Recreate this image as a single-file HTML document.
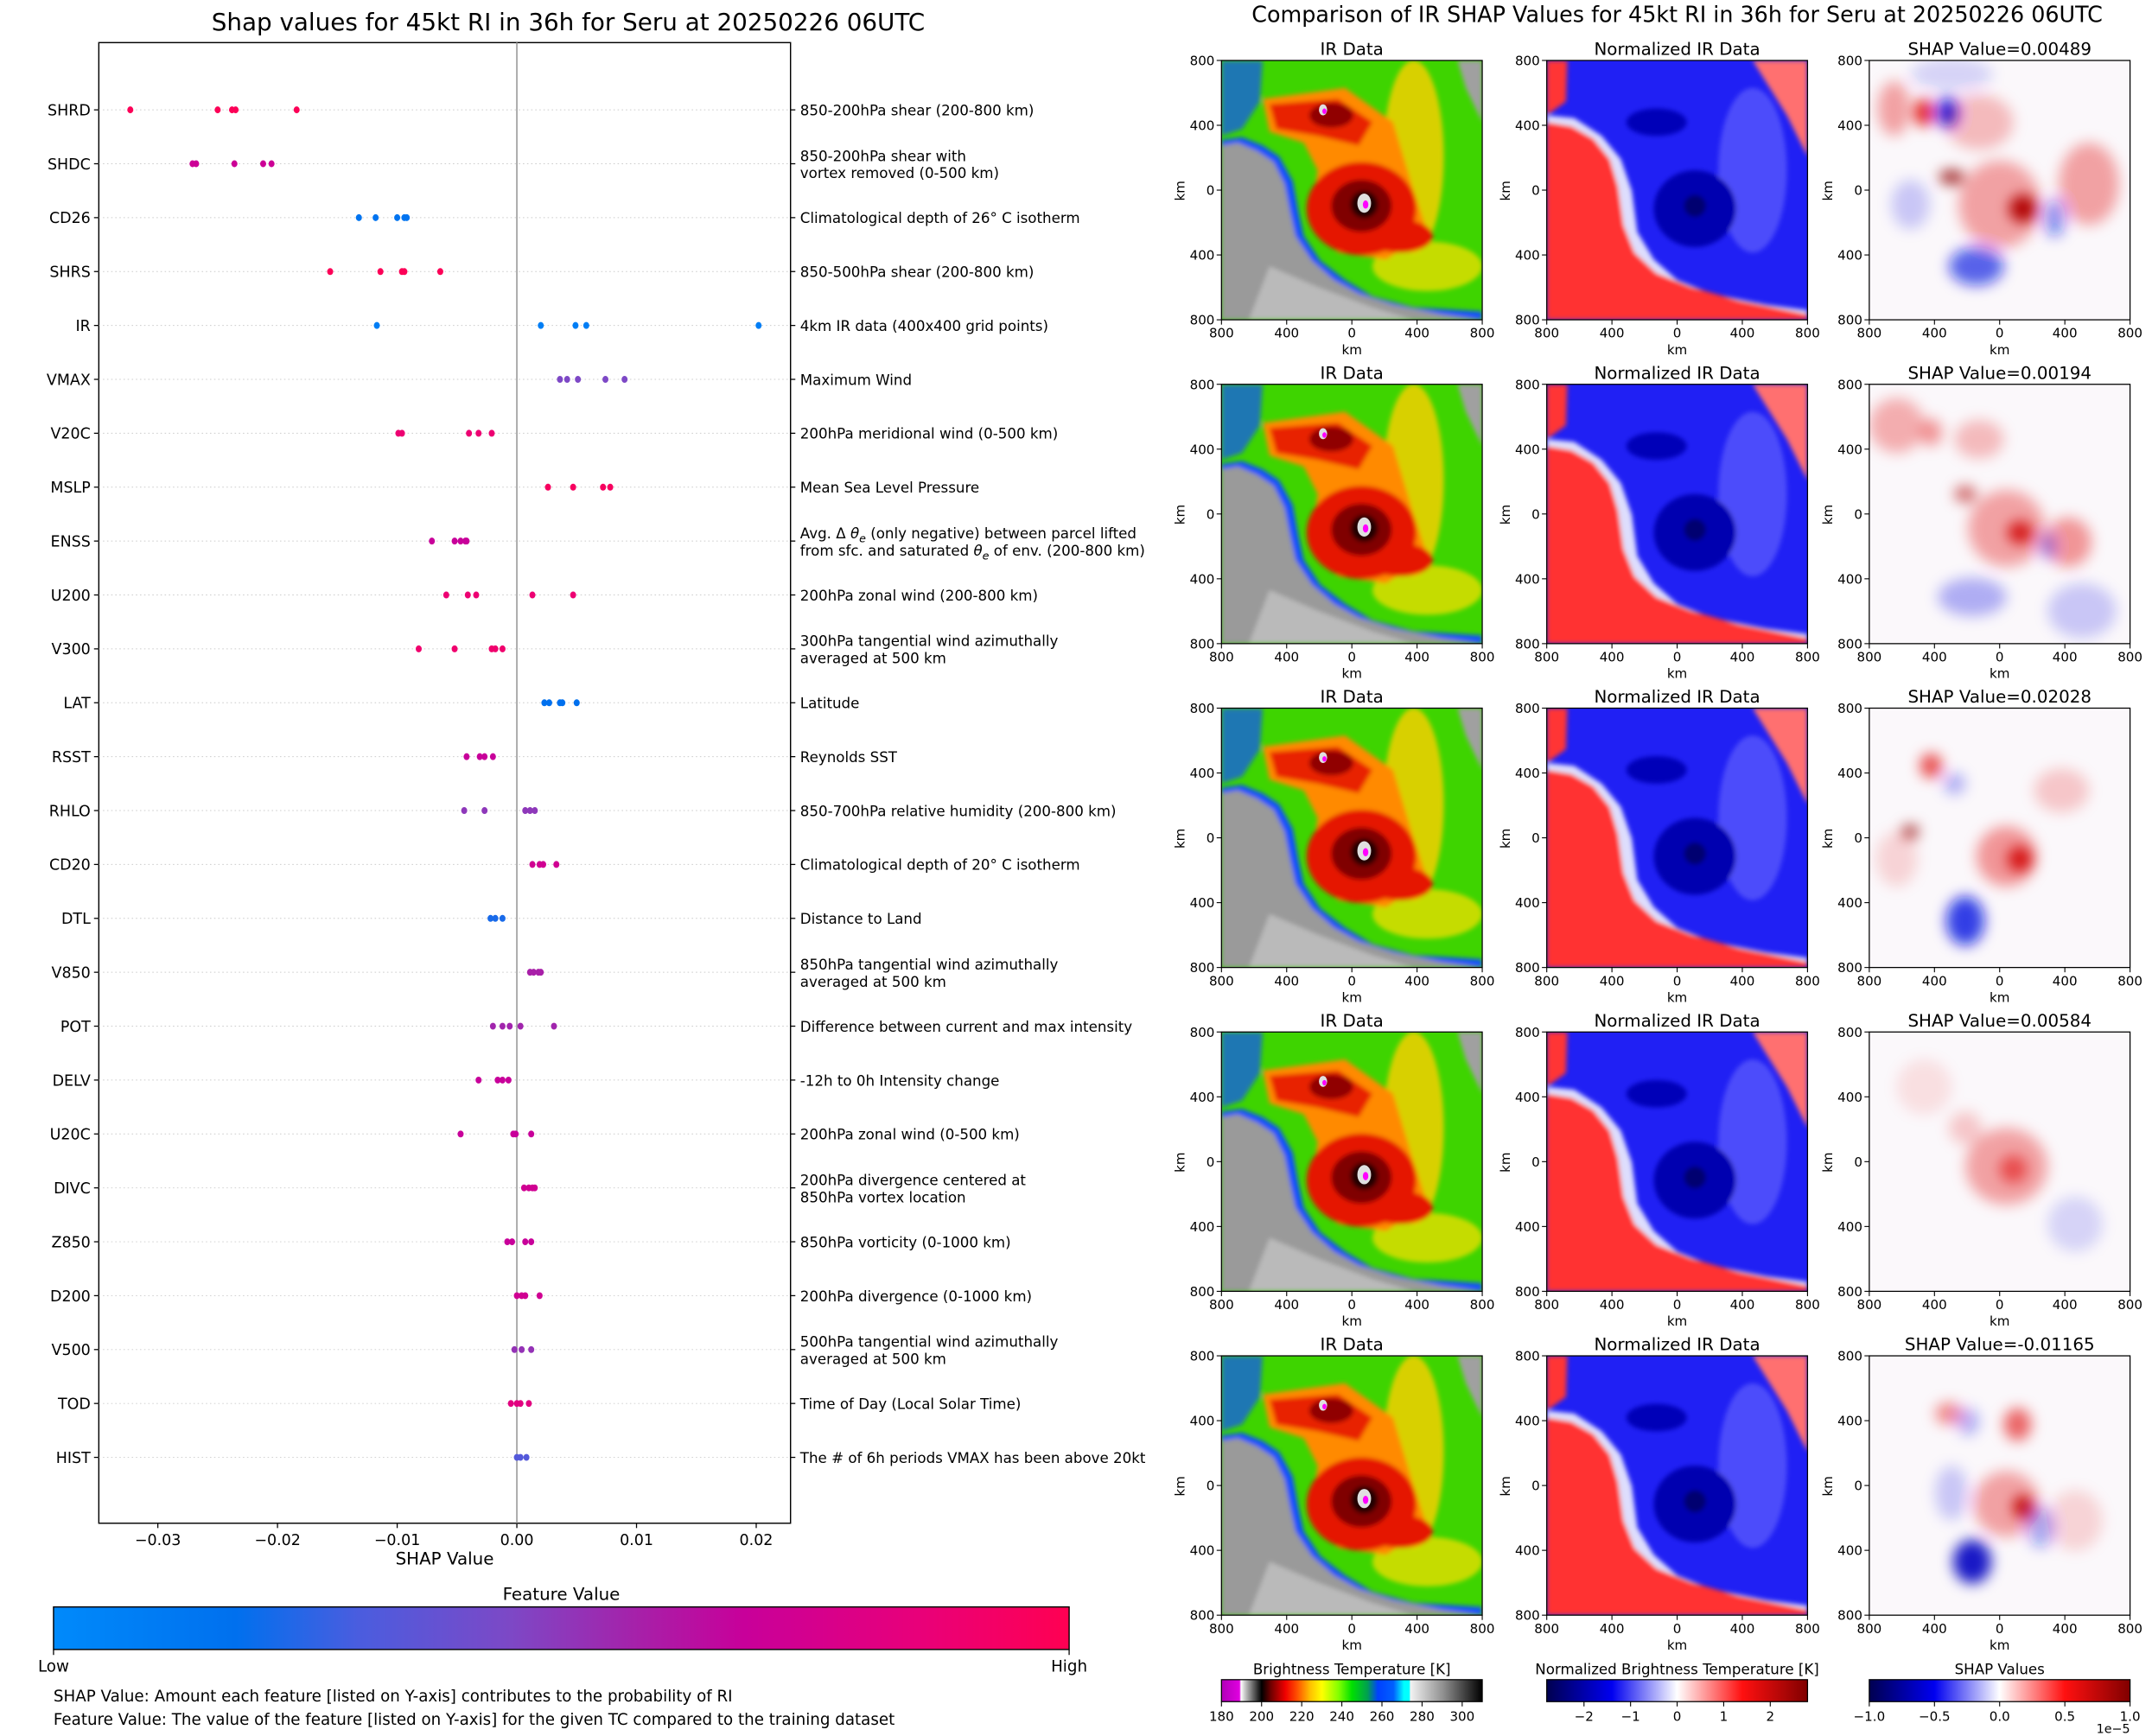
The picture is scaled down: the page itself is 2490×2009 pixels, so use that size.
<!DOCTYPE html>
<html><head><meta charset="utf-8">
<style>
html,body{margin:0;padding:0;background:#fff;}
svg{display:block;font-family:"DejaVu Sans","Liberation Sans",sans-serif;}
</style></head>
<body>
<svg id="root" width="2490" height="2009" viewBox="0 0 1568 1265" xmlns="http://www.w3.org/2000/svg">
<defs>
  <filter id="b2" x="-10%" y="-10%" width="120%" height="120%"><feGaussianBlur stdDeviation="1.6"/></filter>
  <filter id="b6" x="-50%" y="-50%" width="200%" height="200%"><feGaussianBlur stdDeviation="5"/></filter>
  <clipPath id="pclip"><rect x="0" y="0" width="190" height="189"/></clipPath>
  <linearGradient id="featGrad" x1="0" x2="1" y1="0" y2="0">
    <stop offset="0" stop-color="#008afb"/><stop offset="0.18" stop-color="#0070ee"/>
    <stop offset="0.3" stop-color="#4a5ddf"/><stop offset="0.45" stop-color="#7d48c6"/>
    <stop offset="0.58" stop-color="#a81fa8"/><stop offset="0.68" stop-color="#c8009a"/>
    <stop offset="0.85" stop-color="#e8007a"/><stop offset="1" stop-color="#ff0052"/>
  </linearGradient>
  <linearGradient id="irGrad" x1="0" x2="1" y1="0" y2="0">
    <stop offset="0" stop-color="#b000b8"/><stop offset="0.069" stop-color="#e000e0"/>
    <stop offset="0.075" stop-color="#ffffff"/><stop offset="0.09" stop-color="#c8c8c8"/>
    <stop offset="0.154" stop-color="#000000"/><stop offset="0.19" stop-color="#700000"/>
    <stop offset="0.245" stop-color="#f00000"/><stop offset="0.29" stop-color="#ff5000"/>
    <stop offset="0.34" stop-color="#ffc000"/><stop offset="0.385" stop-color="#ffff00"/>
    <stop offset="0.45" stop-color="#80ff00"/><stop offset="0.5" stop-color="#00e000"/>
    <stop offset="0.56" stop-color="#00a050"/><stop offset="0.6" stop-color="#0040ff"/>
    <stop offset="0.66" stop-color="#0060ff"/><stop offset="0.7" stop-color="#00ffff"/>
    <stop offset="0.72" stop-color="#00ffff"/><stop offset="0.725" stop-color="#f2f2f2"/>
    <stop offset="0.85" stop-color="#909090"/><stop offset="1" stop-color="#000000"/>
  </linearGradient>
  <linearGradient id="seis" x1="0" x2="1" y1="0" y2="0">
    <stop offset="0" stop-color="#000050"/><stop offset="0.25" stop-color="#0000f0"/>
    <stop offset="0.5" stop-color="#ffffff"/><stop offset="0.75" stop-color="#ff1010"/>
    <stop offset="1" stop-color="#800000"/>
  </linearGradient>
  <g id="irimg" clip-path="url(#pclip)">
    <rect x="0" y="0" width="190" height="189" fill="#3ed400"/>
    <g filter="url(#b2)">
      <ellipse cx="140" cy="70" rx="22" ry="70" fill="#ffd000" opacity="0.8"/>
      <ellipse cx="150" cy="150" rx="40" ry="18" fill="#ffe000" opacity="0.7"/>
      <path d="M30,28 L90,20 L125,45 L140,95 L150,125 L120,145 L85,140 L65,115 L70,80 L60,60 L35,52 Z" fill="#ff8a00"/>
      <path d="M35,32 L85,28 L110,45 L100,62 L70,55 L40,50 Z" fill="#e82000"/>
      <ellipse cx="102" cy="108" rx="40" ry="34" fill="#e51200"/>
      <ellipse cx="130" cy="128" rx="24" ry="12" fill="#e51200"/>
      <ellipse cx="102" cy="106" rx="22" ry="19" fill="#800000"/>
      <ellipse cx="80" cy="40" rx="16" ry="9" fill="#900000"/>
      <ellipse cx="104" cy="105" rx="10" ry="10" fill="#200000"/>
      <path d="M0,0 L30,0 L28,30 L15,50 L0,55 Z" fill="#1050ff" opacity="0.7"/>
      <path d="M172,0 L190,0 L190,45 L178,20 Z" fill="#a0a0a0"/>
      <path d="M0,58 L15,56 L30,62 L42,70 L52,88 L56,110 L60,128 L72,146 L90,160 L110,172 L140,180 L190,183 L190,189 L0,189 Z" fill="#1050ff"/>
      <path d="M0,62 L12,60 L26,66 L38,74 L46,90 L50,110 L54,128 L66,146 L82,160 L100,170 L125,178 L160,185 L190,189 L0,189 Z" fill="#9a9a9a"/>
      <path d="M35,150 L70,165 L110,180 L140,189 L20,189 Z" fill="#c8c8c8" opacity="0.7"/>
    </g>
    <ellipse cx="104" cy="104" rx="5" ry="7" fill="#e0e0e0"/>
    <ellipse cx="105" cy="105" rx="2" ry="3" fill="#ff00ff"/>
    <ellipse cx="74" cy="36" rx="3" ry="4" fill="#e0e0e0"/>
    <ellipse cx="75" cy="37" rx="1.5" ry="2" fill="#ff00ff"/>
  </g>
  <g id="nrmimg" clip-path="url(#pclip)">
    <rect x="0" y="0" width="190" height="189" fill="#2020f4"/>
    <g filter="url(#b2)">
      <ellipse cx="150" cy="80" rx="25" ry="60" fill="#6a6aff" opacity="0.6"/>
      <path d="M150,0 L190,0 L190,70 L175,40 Z" fill="#ff7070"/>
      <path d="M0,0 L15,0 L14,30 L0,40 Z" fill="#ff3535"/>
      <path d="M0,40 L20,42 L40,55 L54,72 L62,95 L66,125 L78,145 L95,160 L120,170 L160,178 L190,182 L190,189 L0,189 Z" fill="#ffffff" opacity="0.85"/>
      <path d="M0,45 L18,48 L34,57 L46,72 L52,92 L56,120 L64,140 L80,155 L105,165 L140,175 L190,185 L190,189 L0,189 Z" fill="#ff3232"/>
      <ellipse cx="108" cy="108" rx="30" ry="28" fill="#0000b0"/>
      <ellipse cx="80" cy="45" rx="22" ry="10" fill="#0000b8"/>
      <ellipse cx="108" cy="106" rx="8" ry="8" fill="#000070"/>
    </g>
  </g>
</defs>

<text x="414" y="22" font-size="17.5" text-anchor="middle" fill="#000">Shap values for 45kt RI in 36h for Seru at 20250226 06UTC</text>
<text x="1222" y="16" font-size="16" text-anchor="middle" fill="#000">Comparison of IR SHAP Values for 45kt RI in 36h for Seru at 20250226 06UTC</text>

<g id="chart"></g>
<g id="panels"></g>

<g>
  <text x="409" y="1166" font-size="12.5" text-anchor="middle">Feature Value</text>
  <rect x="39" y="1171" width="740" height="31" fill="url(#featGrad)" stroke="#000" stroke-width="0.9"/>
  <line x1="39" y1="1202" x2="39" y2="1206" stroke="#000" stroke-width="0.8"/>
  <line x1="779" y1="1202" x2="779" y2="1206" stroke="#000" stroke-width="0.8"/>
  <text x="39" y="1218" font-size="11.5" text-anchor="middle">Low</text>
  <text x="779" y="1218" font-size="11.5" text-anchor="middle">High</text>
</g>
<text x="39" y="1240" font-size="11.5">SHAP Value: Amount each feature [listed on Y-axis] contributes to the probability of RI</text>
<text x="39" y="1257" font-size="11.5">Feature Value: The value of the feature [listed on Y-axis] for the given TC compared to the training dataset</text>
</svg>

<script>
const features = ["SHRD","SHDC","CD26","SHRS","IR","VMAX","V20C","MSLP","ENSS","U200","V300","LAT","RSST","RHLO","CD20","DTL","V850","POT","DELV","U20C","DIVC","Z850","D200","V500","TOD","HIST"];
const descriptions = [
 ["850-200hPa shear (200-800 km)"],
 ["850-200hPa shear with","vortex removed (0-500 km)"],
 ["Climatological depth of 26° C isotherm"],
 ["850-500hPa shear (200-800 km)"],
 ["4km IR data (400x400 grid points)"],
 ["Maximum Wind"],
 ["200hPa meridional wind (0-500 km)"],
 ["Mean Sea Level Pressure"],
 ["THETA1","THETA2"],
 ["200hPa zonal wind (200-800 km)"],
 ["300hPa tangential wind azimuthally","averaged at 500 km"],
 ["Latitude"],
 ["Reynolds SST"],
 ["850-700hPa relative humidity (200-800 km)"],
 ["Climatological depth of 20° C isotherm"],
 ["Distance to Land"],
 ["850hPa tangential wind azimuthally","averaged at 500 km"],
 ["Difference between current and max intensity"],
 ["-12h to 0h Intensity change"],
 ["200hPa zonal wind (0-500 km)"],
 ["200hPa divergence centered at","850hPa vortex location"],
 ["850hPa vorticity (0-1000 km)"],
 ["200hPa divergence (0-1000 km)"],
 ["500hPa tangential wind azimuthally","averaged at 500 km"],
 ["Time of Day (Local Solar Time)"],
 ["The # of 6h periods VMAX has been above 20kt"]
];
const shapValues = [
 [-0.0323,-0.0250,-0.0238,-0.0235,-0.0184],
 [-0.0271,-0.0268,-0.0236,-0.0212,-0.0205],
 [-0.0132,-0.0118,-0.0100,-0.0094,-0.0092],
 [-0.0156,-0.0114,-0.0096,-0.0094,-0.0064],
 [-0.0117,0.0020,0.0049,0.0058,0.0202],
 [0.0036,0.0042,0.0051,0.0074,0.0090],
 [-0.0099,-0.0096,-0.0040,-0.0032,-0.0021],
 [0.0026,0.0047,0.0072,0.0078],
 [-0.0071,-0.0052,-0.0047,-0.0043,-0.0042],
 [-0.0059,-0.0041,-0.0034,0.0013,0.0047],
 [-0.0082,-0.0052,-0.0021,-0.0018,-0.0012],
 [0.0023,0.0027,0.0036,0.0038,0.0050],
 [-0.0042,-0.0031,-0.0027,-0.0020],
 [-0.0044,-0.0027,0.0007,0.0011,0.0015],
 [0.0013,0.0019,0.0022,0.0033],
 [-0.0022,-0.0018,-0.0012],
 [0.0011,0.0014,0.0018,0.0020],
 [-0.0020,-0.0012,-0.0006,0.0003,0.0031],
 [-0.0032,-0.0016,-0.0012,-0.0007],
 [-0.0047,-0.0003,-0.0001,0.0012],
 [0.0006,0.0010,0.0013,0.0015],
 [-0.0008,-0.0004,0.0007,0.0012],
 [0.0000,0.0004,0.0007,0.0019],
 [-0.0002,0.0004,0.0012],
 [-0.0005,0.0000,0.0003,0.0010],
 [0.0000,0.0003,0.0008]
];
const featureLevels = [0.98,0.7,0.15,0.98,0.08,0.45,0.88,0.95,0.68,0.88,0.9,0.18,0.68,0.5,0.72,0.22,0.58,0.56,0.68,0.68,0.72,0.68,0.72,0.52,0.82,0.33];
const xTicks = [-0.03,-0.02,-0.01,0.00,0.01,0.02];
const xTickLabels = ["\u22120.03","\u22120.02","\u22120.01","0.00","0.01","0.02"];

const NS = "http://www.w3.org/2000/svg";
function mk(tag, attrs, parent){ const e=document.createElementNS(NS,tag); for(const k in attrs) e.setAttribute(k,attrs[k]); if(parent) parent.appendChild(e); return e; }

const cmapStops=[[0,[0,138,251]],[0.18,[0,112,238]],[0.3,[74,93,223]],[0.45,[125,72,198]],[0.58,[168,31,168]],[0.68,[200,0,154]],[0.85,[232,0,122]],[1,[255,0,82]]];
function cmap(t){ for(let i=1;i<cmapStops.length;i++){ if(t<=cmapStops[i][0]){ const a=cmapStops[i-1],b=cmapStops[i]; const f=(t-a[0])/(b[0]-a[0]); return "rgb("+a[1].map((v,j)=>Math.round(v+(b[1][j]-v)*f)).join(",")+")"; } } return "rgb(255,0,82)"; }

const PL=72, PR=576, PT=31, PB=1110;
const X0=376.6, XS=8720;
function xScale(v){ return X0 + v*XS; }
function yScale(i){ return 80 + i*39.28; }

const chart=document.getElementById('chart');
const frame=mk('rect',{x:PL,y:PT,width:PR-PL,height:PB-PT,fill:'none',stroke:'#000','stroke-width':0.9},chart);


const zl=mk('line',{x1:xScale(0),x2:xScale(0),y1:PT,y2:PB,stroke:'#999','stroke-width':1},chart);



features.forEach((f,i)=>{
  const y=yScale(i);
  const g=mk('line',{x1:PL,x2:PR,y1:y,y2:y,stroke:'#ccc','stroke-width':0.6,'stroke-dasharray':'1,2'},chart);
  
  
  mk('line',{x1:PL-3.5,x2:PL,y1:y,y2:y,stroke:'#000','stroke-width':0.8},chart);
  mk('line',{x1:PR,x2:PR+3.5,y1:y,y2:y,stroke:'#000','stroke-width':0.8},chart);
  const t=mk('text',{x:PL-6,y:y+4,'font-size':11,'text-anchor':'end'},chart);
  t.textContent=f;
  
  
  const d=descriptions[i];
  const lines=d.length;
  d.forEach((ln,k)=>{
    const ty = lines===1 ? y+4 : y-2+k*12.5;
    const tt=mk('text',{x:PR+7,y:ty,'font-size':10.5},chart);
    
    
    if(ln==="THETA1"){
      tt.innerHTML='Avg. \u0394 <tspan font-style="italic">\u03b8</tspan><tspan font-size="8" dy="3" font-style="italic">e</tspan><tspan dy="-3"> (only negative) between parcel lifted</tspan>';
    } else if(ln==="THETA2"){
      tt.innerHTML='from sfc. and saturated <tspan font-style="italic">\u03b8</tspan><tspan font-size="8" dy="3" font-style="italic">e</tspan><tspan dy="-3"> of env. (200-800 km)</tspan>';
    } else tt.textContent=ln;
  });
  const col=cmap(featureLevels[i]);
  shapValues[i].forEach((v,k)=>{
    const dot=mk('ellipse',{cx:xScale(v),cy:y,rx:2.2,ry:2.5,fill:col},chart);
    
    
  });
});
xTicks.forEach((v,k)=>{
  const x=xScale(v);
  mk('line',{x1:x,x2:x,y1:PB,y2:PB+3.5,stroke:'#000','stroke-width':0.8},chart);
  const t=mk('text',{x:x,y:PB+16,'font-size':11,'text-anchor':'middle'},chart);
  t.textContent=xTickLabels[k];
  
  
});
const xl=mk('text',{x:324,y:PB+30,'font-size':12.5,'text-anchor':'middle'},chart);
xl.textContent='SHAP Value';



const panelTitles = ["SHAP Value=0.00489","SHAP Value=0.00194","SHAP Value=0.02028","SHAP Value=0.00584","SHAP Value=-0.01165"];
const colX=[890,1127,1362];
const rowY=[44,280,516,752,988];
const kmTicks=["800","400","0","400","800"];
const R="#e00000", B="#0010e0";
const shapBlobs=[
 [[40,38,7,10,R,0.9],[57,38,8,11,B,0.95],[18,35,12,20,R,0.35],[60,85,9,5,"#900000",0.9],[95,105,30,32,R,0.35],[112,108,10,10,"#b00000",1],[160,90,22,30,R,0.35],[80,45,25,20,R,0.25],[78,150,20,14,B,0.65],[135,115,8,14,B,0.45],[30,105,14,18,B,0.2],[60,10,30,12,B,0.15]],
 [[20,30,20,20,R,0.3],[45,35,8,10,R,0.4],[80,40,18,14,R,0.25],[100,105,28,28,R,0.35],[110,108,9,8,"#d00000",0.9],[145,115,17,18,R,0.4],[130,118,6,10,B,0.35],[75,155,25,14,B,0.3],[155,165,25,20,B,0.2],[70,80,8,6,"#b00000",0.6]],
 [[45,42,8,9,R,0.7],[62,55,8,8,B,0.3],[30,90,6,5,"#900000",0.8],[100,108,22,22,R,0.4],[110,110,9,9,"#d00000",0.9],[70,155,14,18,B,0.8],[140,60,20,16,R,0.2],[20,110,15,20,R,0.15]],
 [[100,98,30,28,R,0.35],[105,100,10,10,R,0.55],[70,70,12,12,R,0.2],[150,140,20,20,B,0.15],[40,40,20,20,R,0.1]],
 [[58,42,10,8,R,0.45],[108,50,10,12,"#e00000",0.6],[72,48,8,10,B,0.3],[100,108,24,24,R,0.35],[112,110,7,8,"#c00000",1],[125,125,10,15,B,0.35],[75,150,14,16,"#0000c0",0.9],[60,100,12,20,B,0.2],[150,120,20,22,R,0.15]]
];
const panels=document.getElementById('panels');
rowY.forEach((ry,r)=>{
  colX.forEach((cx,c)=>{
    const g=mk('g',{transform:'translate('+cx+','+ry+')'},panels);
    
    
    if(c===0) mk('use',{href:'#irimg'},g);
    else if(c===1) mk('use',{href:'#nrmimg'},g);
    else {
      const sg=mk('g',{'clip-path':'url(#pclip)'},g);
      mk('rect',{x:0,y:0,width:190,height:189,fill:'#fbf8fb'},sg);
      const bg=mk('g',{filter:'url(#b6)'},sg);
      shapBlobs[r].forEach(b=>mk('ellipse',{cx:b[0],cy:b[1],rx:b[2],ry:b[3],fill:b[4],opacity:b[5]},bg));
    }
    mk('rect',{x:0,y:0,width:190,height:189,fill:'none',stroke:'#000','stroke-width':0.8},g);
    const tt=mk('text',{x:95,y:-4,'font-size':12.5,'text-anchor':'middle'},g);
    tt.textContent = c===0?'IR Data':(c===1?'Normalized IR Data':panelTitles[r]);
    
    
    kmTicks.forEach((lab,k)=>{
      const px=k*47.5, py=k*47.25;
      mk('line',{x1:px,x2:px,y1:189,y2:192.5,stroke:'#000','stroke-width':0.7},g);
      const a=mk('text',{x:px,y:202,'font-size':9.5,'text-anchor':'middle'},g); a.textContent=lab;
      
      
      mk('line',{x1:-3.5,x2:0,y1:py,y2:py,stroke:'#000','stroke-width':0.7},g);
      const b=mk('text',{x:-5,y:py+3.5,'font-size':9.5,'text-anchor':'end'},g); b.textContent=lab;
      
      
    });
    const kx=mk('text',{x:95,y:214,'font-size':9.5,'text-anchor':'middle'},g); kx.textContent='km';
    
    
    const ky=mk('text',{x:0,y:0,'font-size':9.5,'text-anchor':'middle',transform:'translate(-27,95) rotate(-90)'},g); ky.textContent='km';
    
    
  });
});

const cbDefs=[
 {x:890,title:'Brightness Temperature [K]',fill:'url(#irGrad)',min:180,max:310,ticks:[180,200,220,240,260,280,300],labels:["180","200","220","240","260","280","300"]},
 {x:1127,title:'Normalized Brightness Temperature [K]',fill:'url(#seis)',min:-2.8,max:2.8,ticks:[-2,-1,0,1,2],labels:["\u22122","\u22121","0","1","2"]},
 {x:1362,title:'SHAP Values',fill:'url(#seis)',min:-1,max:1,ticks:[-1,-0.5,0,0.5,1],labels:["\u22121.0","\u22120.5","0.0","0.5","1.0"]}
];
cbDefs.forEach((cb,i)=>{
  const g=mk('g',{},panels);
  
  
  const t=mk('text',{x:cb.x+95,y:1220,'font-size':10.5,'text-anchor':'middle'},g); t.textContent=cb.title;
  
  
  mk('rect',{x:cb.x,y:1224,width:190,height:16,fill:cb.fill,stroke:'#000','stroke-width':0.8},g);
  cb.ticks.forEach((v,k)=>{
    const x=cb.x+(v-cb.min)/(cb.max-cb.min)*190;
    mk('line',{x1:x,x2:x,y1:1240,y2:1243.5,stroke:'#000','stroke-width':0.7},g);
    const l=mk('text',{x:x,y:1254,'font-size':9.5,'text-anchor':'middle'},g); l.textContent=cb.labels[k];
    
    
  });
});
const ex=mk('text',{x:1552,y:1263,'font-size':9,'text-anchor':'end'},panels); ex.textContent='1e\u22125';


</script>
</body></html>
